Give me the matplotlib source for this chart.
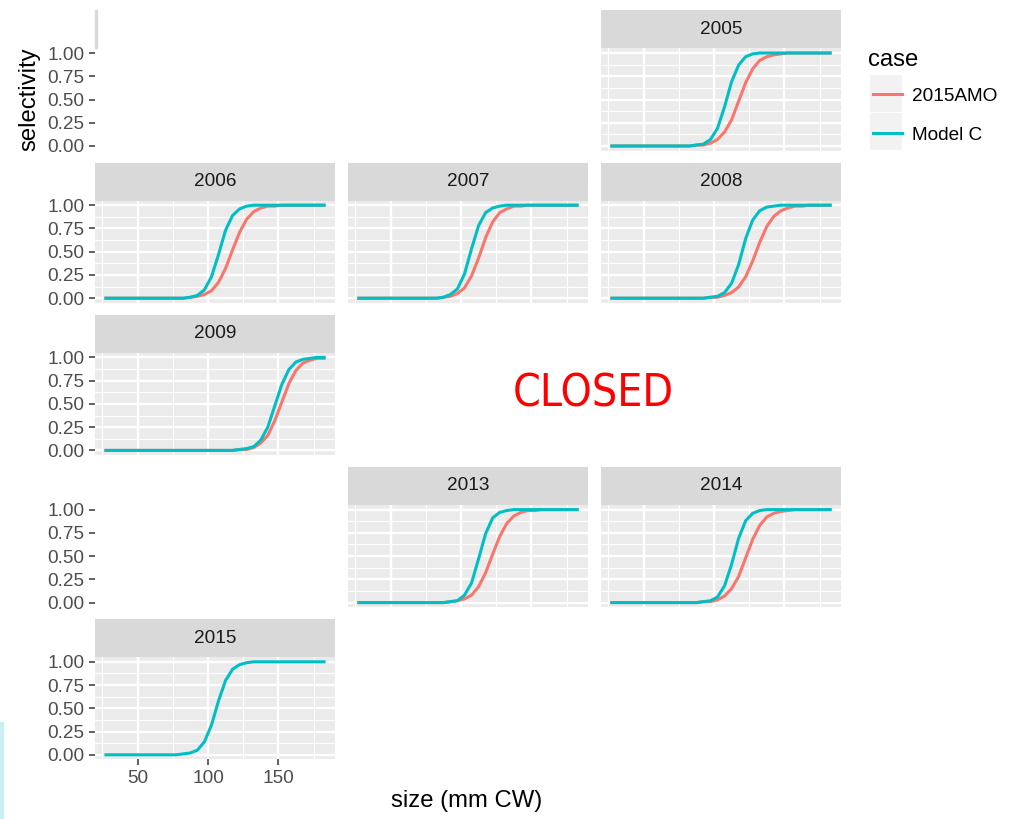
import numpy as np
import matplotlib
matplotlib.use('Agg')
import matplotlib.pyplot as plt
from matplotlib import font_manager
from matplotlib.lines import Line2D
from matplotlib.patches import Rectangle

plt.rcParams['font.family'] = ['Liberation Sans', 'DejaVu Sans']

# size classes (mm CW), 5 mm bin midpoints
size_mm = np.arange(27.5, 183, 5.0)

case_labels = ['2015AMO', 'Model C']
case_colors = ['#F8766D', '#00BFC4']

# selectivity, one value per size class
amo_2005 = [0.00, 0.00, 0.00, 0.00, 0.00, 0.00, 0.00, 0.00, 0.00, 0.00,
            0.00, 0.00, 0.01, 0.01, 0.03, 0.07, 0.15, 0.28, 0.48, 0.68,
            0.83, 0.92, 0.96, 0.98, 0.99, 1.00, 1.00, 1.00, 1.00, 1.00,
            1.00, 1.00]
modc_2005 = [0.00, 0.00, 0.00, 0.00, 0.00, 0.00, 0.00, 0.00, 0.00, 0.00,
             0.00, 0.00, 0.01, 0.02, 0.07, 0.19, 0.42, 0.69, 0.87, 0.96,
             0.99, 1.00, 1.00, 1.00, 1.00, 1.00, 1.00, 1.00, 1.00, 1.00,
             1.00, 1.00]
amo_2006 = [0.00, 0.00, 0.00, 0.00, 0.00, 0.00, 0.00, 0.00, 0.00, 0.00,
            0.00, 0.00, 0.01, 0.02, 0.04, 0.08, 0.17, 0.32, 0.52, 0.71,
            0.85, 0.93, 0.97, 0.99, 0.99, 1.00, 1.00, 1.00, 1.00, 1.00,
            1.00, 1.00]
modc_2006 = [0.00, 0.00, 0.00, 0.00, 0.00, 0.00, 0.00, 0.00, 0.00, 0.00,
             0.00, 0.00, 0.01, 0.03, 0.09, 0.23, 0.47, 0.73, 0.89, 0.96,
             0.99, 1.00, 1.00, 1.00, 1.00, 1.00, 1.00, 1.00, 1.00, 1.00,
             1.00, 1.00]
amo_2007 = [0.00, 0.00, 0.00, 0.00, 0.00, 0.00, 0.00, 0.00, 0.00, 0.00,
            0.00, 0.00, 0.01, 0.02, 0.05, 0.11, 0.24, 0.43, 0.65, 0.82,
            0.92, 0.96, 0.99, 0.99, 1.00, 1.00, 1.00, 1.00, 1.00, 1.00,
            1.00, 1.00]
modc_2007 = [0.00, 0.00, 0.00, 0.00, 0.00, 0.00, 0.00, 0.00, 0.00, 0.00,
             0.00, 0.00, 0.01, 0.04, 0.10, 0.26, 0.53, 0.78, 0.92, 0.97,
             0.99, 1.00, 1.00, 1.00, 1.00, 1.00, 1.00, 1.00, 1.00, 1.00,
             1.00, 1.00]
amo_2008 = [0.00, 0.00, 0.00, 0.00, 0.00, 0.00, 0.00, 0.00, 0.00, 0.00,
            0.00, 0.00, 0.00, 0.00, 0.01, 0.01, 0.03, 0.06, 0.12, 0.23,
            0.40, 0.60, 0.77, 0.88, 0.94, 0.97, 0.99, 0.99, 1.00, 1.00,
            1.00, 1.00]
modc_2008 = [0.00, 0.00, 0.00, 0.00, 0.00, 0.00, 0.00, 0.00, 0.00, 0.00,
             0.00, 0.00, 0.00, 0.00, 0.01, 0.02, 0.06, 0.16, 0.36, 0.64,
             0.84, 0.94, 0.98, 0.99, 1.00, 1.00, 1.00, 1.00, 1.00, 1.00,
             1.00, 1.00]
amo_2009 = [0.00, 0.00, 0.00, 0.00, 0.00, 0.00, 0.00, 0.00, 0.00, 0.00,
            0.00, 0.00, 0.00, 0.00, 0.00, 0.00, 0.00, 0.00, 0.00, 0.01,
            0.01, 0.03, 0.08, 0.16, 0.32, 0.52, 0.72, 0.86, 0.94, 0.97,
            0.99, 0.99]
modc_2009 = [0.00, 0.00, 0.00, 0.00, 0.00, 0.00, 0.00, 0.00, 0.00, 0.00,
             0.00, 0.00, 0.00, 0.00, 0.00, 0.00, 0.00, 0.00, 0.00, 0.01,
             0.02, 0.04, 0.11, 0.25, 0.48, 0.71, 0.87, 0.95, 0.98, 0.99,
             1.00, 1.00]
amo_2013 = [0.00, 0.00, 0.00, 0.00, 0.00, 0.00, 0.00, 0.00, 0.00, 0.00,
            0.00, 0.00, 0.00, 0.01, 0.02, 0.04, 0.08, 0.17, 0.32, 0.52,
            0.71, 0.85, 0.93, 0.97, 0.99, 0.99, 1.00, 1.00, 1.00, 1.00,
            1.00, 1.00]
modc_2013 = [0.00, 0.00, 0.00, 0.00, 0.00, 0.00, 0.00, 0.00, 0.00, 0.00,
             0.00, 0.00, 0.00, 0.01, 0.02, 0.08, 0.21, 0.47, 0.74, 0.91,
             0.97, 0.99, 1.00, 1.00, 1.00, 1.00, 1.00, 1.00, 1.00, 1.00,
             1.00, 1.00]
amo_2014 = [0.00, 0.00, 0.00, 0.00, 0.00, 0.00, 0.00, 0.00, 0.00, 0.00,
            0.00, 0.00, 0.00, 0.01, 0.01, 0.03, 0.07, 0.15, 0.28, 0.48,
            0.68, 0.83, 0.92, 0.96, 0.98, 0.99, 1.00, 1.00, 1.00, 1.00,
            1.00, 1.00]
modc_2014 = [0.00, 0.00, 0.00, 0.00, 0.00, 0.00, 0.00, 0.00, 0.00, 0.00,
             0.00, 0.00, 0.00, 0.01, 0.02, 0.06, 0.18, 0.41, 0.69, 0.88,
             0.96, 0.99, 1.00, 1.00, 1.00, 1.00, 1.00, 1.00, 1.00, 1.00,
             1.00, 1.00]
modc_2015 = [0.00, 0.00, 0.00, 0.00, 0.00, 0.00, 0.00, 0.00, 0.00, 0.00,
             0.00, 0.01, 0.02, 0.05, 0.14, 0.32, 0.58, 0.80, 0.92, 0.97,
             0.99, 1.00, 1.00, 1.00, 1.00, 1.00, 1.00, 1.00, 1.00, 1.00,
             1.00, 1.00]

x_breaks = [50, 100, 150]
y_breaks = [0.00, 0.25, 0.50, 0.75, 1.00]
y_labels = ['0.00', '0.25', '0.50', '0.75', '1.00']

series = {
    2005: [amo_2005, modc_2005],
    2006: [amo_2006, modc_2006],
    2007: [amo_2007, modc_2007],
    2008: [amo_2008, modc_2008],
    2009: [amo_2009, modc_2009],
    2013: [amo_2013, modc_2013],
    2014: [amo_2014, modc_2014],
    2015: [None, modc_2015],
}

# facet cell (row, col) of each year
cells = {2005: (0, 2), 2006: (1, 0), 2007: (1, 1), 2008: (1, 2),
         2009: (2, 0), 2013: (3, 1), 2014: (3, 2), 2015: (4, 0)}

W, H = 1019, 819
S = 1.56  # screenshot scale relative to ggplot defaults
COL_X = [95, 348, 601]
PANEL_W = 240
ROW_ZERO = [146 + 152.2 * r for r in range(5)]
PX_PER_UNIT = 93.0
STRIP_H = 38


def rect(x, y, w, h):
    return [x / W, 1 - (y + h) / H, w / W, h / H]


def fx(px):
    return px / W


def fy(py):
    return 1 - py / H


def panel_box(row, col):
    top = ROW_ZERO[row] - 1.05 * PX_PER_UNIT
    return COL_X[col], top, PANEL_W, 1.1 * PX_PER_UNIT


def set_scales(ax):
    ax.set_xlim(27.5 - 7.75, 182.5 + 7.75)
    ax.set_ylim(-0.05, 1.05)
    ax.set_xticks(x_breaks)
    ax.set_xticks([25, 75, 125, 175], minor=True)
    ax.set_yticks(y_breaks)
    ax.set_yticklabels(y_labels)
    ax.set_yticks([0.125, 0.375, 0.625, 0.875], minor=True)
    for s in ax.spines.values():
        s.set_visible(False)
    ax.tick_params(which='major', length=2.75 * S, width=0.5 * S * 1.4,
                   color='#333333', labelcolor='#4d4d4d',
                   labelsize=8.8 * S, pad=2.2 * S)
    ax.tick_params(which='minor', length=0)


fig = plt.figure(figsize=(W / 100, H / 100), dpi=100)

for year, (row, col) in cells.items():
    x, y, w, h = panel_box(row, col)
    ax = fig.add_axes(rect(x, y, w, h))
    ax.set_facecolor('#ebebeb')
    set_scales(ax)
    ax.grid(which='major', color='white', lw=0.5 * S * 2.845 * 0.75)
    ax.grid(which='minor', color='white', lw=0.25 * S * 2.845 * 0.75)
    ax.set_axisbelow(True)
    for vals, c in zip(series[year], case_colors):
        if vals is not None:
            ax.plot(size_mm, vals, color=c, lw=2.2, solid_joinstyle='round')
    ax.tick_params(left=(col == 0), labelleft=(col == 0),
                   bottom=(year == 2015), labelbottom=(year == 2015))

    sax = fig.add_axes(rect(x, y - STRIP_H, w, STRIP_H))
    sax.set_facecolor('#d9d9d9')
    sax.set_xticks([])
    sax.set_yticks([])
    for s in sax.spines.values():
        s.set_visible(False)
    sax.text(0.5, 0.5, str(year), ha='center', va='center',
             fontsize=8.8 * S, color='#1a1a1a', transform=sax.transAxes)

# rows whose left panel is blank still carry the y axis
for row in (0, 3):
    x, y, w, h = panel_box(row, 0)
    ax = fig.add_axes(rect(x, y, w, h))
    ax.patch.set_visible(False)
    set_scales(ax)
    ax.tick_params(bottom=False, labelbottom=False)

fig.text(fx(29), fy(99), 'selectivity', rotation=90, ha='center',
         va='center', fontsize=11 * S, color='black')
fig.text(fx(467), fy(801), 'size (mm CW)', ha='center', va='center',
         fontsize=11 * S, color='black')

# legend, drawn by hand to get ggplot's grey key boxes
fig.text(fx(868), fy(66), 'case', ha='left', va='baseline',
         fontsize=11 * S, color='black')
for i, (lab, c) in enumerate(zip(case_labels, case_colors)):
    top = 75 + 38.3 * i
    fig.patches.append(Rectangle((fx(870), fy(top + 37)), 32 / W, 37 / H,
                                 transform=fig.transFigure,
                                 facecolor='#f2f2f2', edgecolor='none'))
    fig.lines.append(Line2D([fx(873), fx(902)], [fy(top + 19.3)] * 2,
                            transform=fig.transFigure, color=c, lw=2.2))
    fig.text(fx(912), fy(top + 26.2), lab, ha='left', va='baseline',
             fontsize=8.8 * S, color='black')

# "CLOSED" overlay: prefer a narrow sans face if one is installed
narrow = [f for f in font_manager.fontManager.ttflist
          if ('Narrow' in f.name or 'Condensed' in f.name
              or f.stretch in ('condensed', 'semi-condensed'))
          and f.style == 'normal' and f.weight in (400, 'normal', 'regular')]
if narrow:
    closed_font = font_manager.FontProperties(fname=narrow[0].fname)
    target_w = 161
else:
    closed_font = font_manager.FontProperties(family='Liberation Sans')
    target_w = 172
closed = fig.text(fx(593), fy(394), 'CLOSED', ha='center', va='center',
                  color='#ff0000', fontproperties=closed_font)
closed.set_fontsize(34)
fig.canvas.draw()
bw = closed.get_window_extent().width
closed.set_fontsize(34 * target_w / bw)

# leftovers of the pasted-over screenshot
fig.patches.append(Rectangle((fx(95), fy(48)), 2 / W, 38 / H,
                             transform=fig.transFigure, color='#d9d9d9'))
fig.patches.append(Rectangle((0, 0), 3 / W, 97 / H,
                             transform=fig.transFigure, color='#c9eef3'))

fig.savefig('out.png', dpi=100)
